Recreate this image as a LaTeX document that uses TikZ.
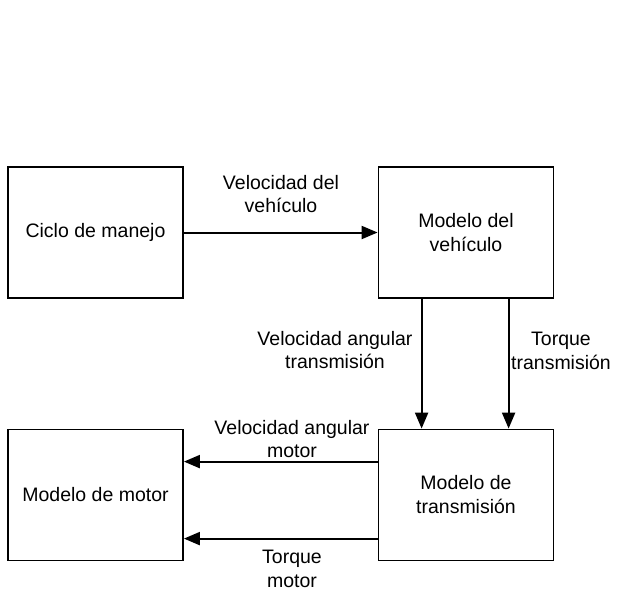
\documentclass[tikz,border=0pt]{standalone}
\usepackage{fontspec}
\setmainfont{Liberation Sans}
\usetikzlibrary{arrows.meta}
\begin{document}
\begin{tikzpicture}[x=1pt,y=-1pt,
  box/.style={draw,line width=1.8pt,minimum width=175pt,minimum height=131pt,inner sep=0pt,align=center,font=\fontsize{19.5}{24}\selectfont},
  lbl/.style={align=center,inner sep=0pt,font=\fontsize{19.5}{23.5}\selectfont},
  arr/.style={line width=2pt,-{Triangle[length=16pt,width=13pt]}}]
\fill[white] (0,0) rectangle (619,590);
\useasboundingbox (0,0) rectangle (619,590);
\node[box] (cic) at (95.5,232.5) {Ciclo de manejo};
\node[box] (veh) at (466,232.5) {Modelo del\\vehículo};
\node[box] (mot) at (95.5,495) {Modelo de motor};
\node[box] (tra) at (466,495) {Modelo de\\transmisión};
\draw[arr] (cic.east) -- (veh.west);
\draw[arr] ([xshift=44pt]veh.south west) -- ([xshift=44pt]tra.north west);
\draw[arr] ([xshift=131pt]veh.south west) -- ([xshift=131pt]tra.north west);
\draw[arr] ([yshift=-33pt]tra.north west) -- ([yshift=-33pt]mot.north east);
\draw[arr] ([yshift=-110pt]tra.north west) -- ([yshift=-110pt]mot.north east);
\node[lbl] (l1) at (281,194) {Velocidad del\\vehículo};
\node[lbl] (l2) at (335,350) {Velocidad angular\\transmisión};
\node[lbl] (l3) at (561,351) {Torque\\transmisión};
\node[lbl] (l4) at (292,439) {Velocidad angular\\motor};
\node[lbl] (l5) at (292,569) {Torque\\motor};
\end{tikzpicture}
\end{document}
